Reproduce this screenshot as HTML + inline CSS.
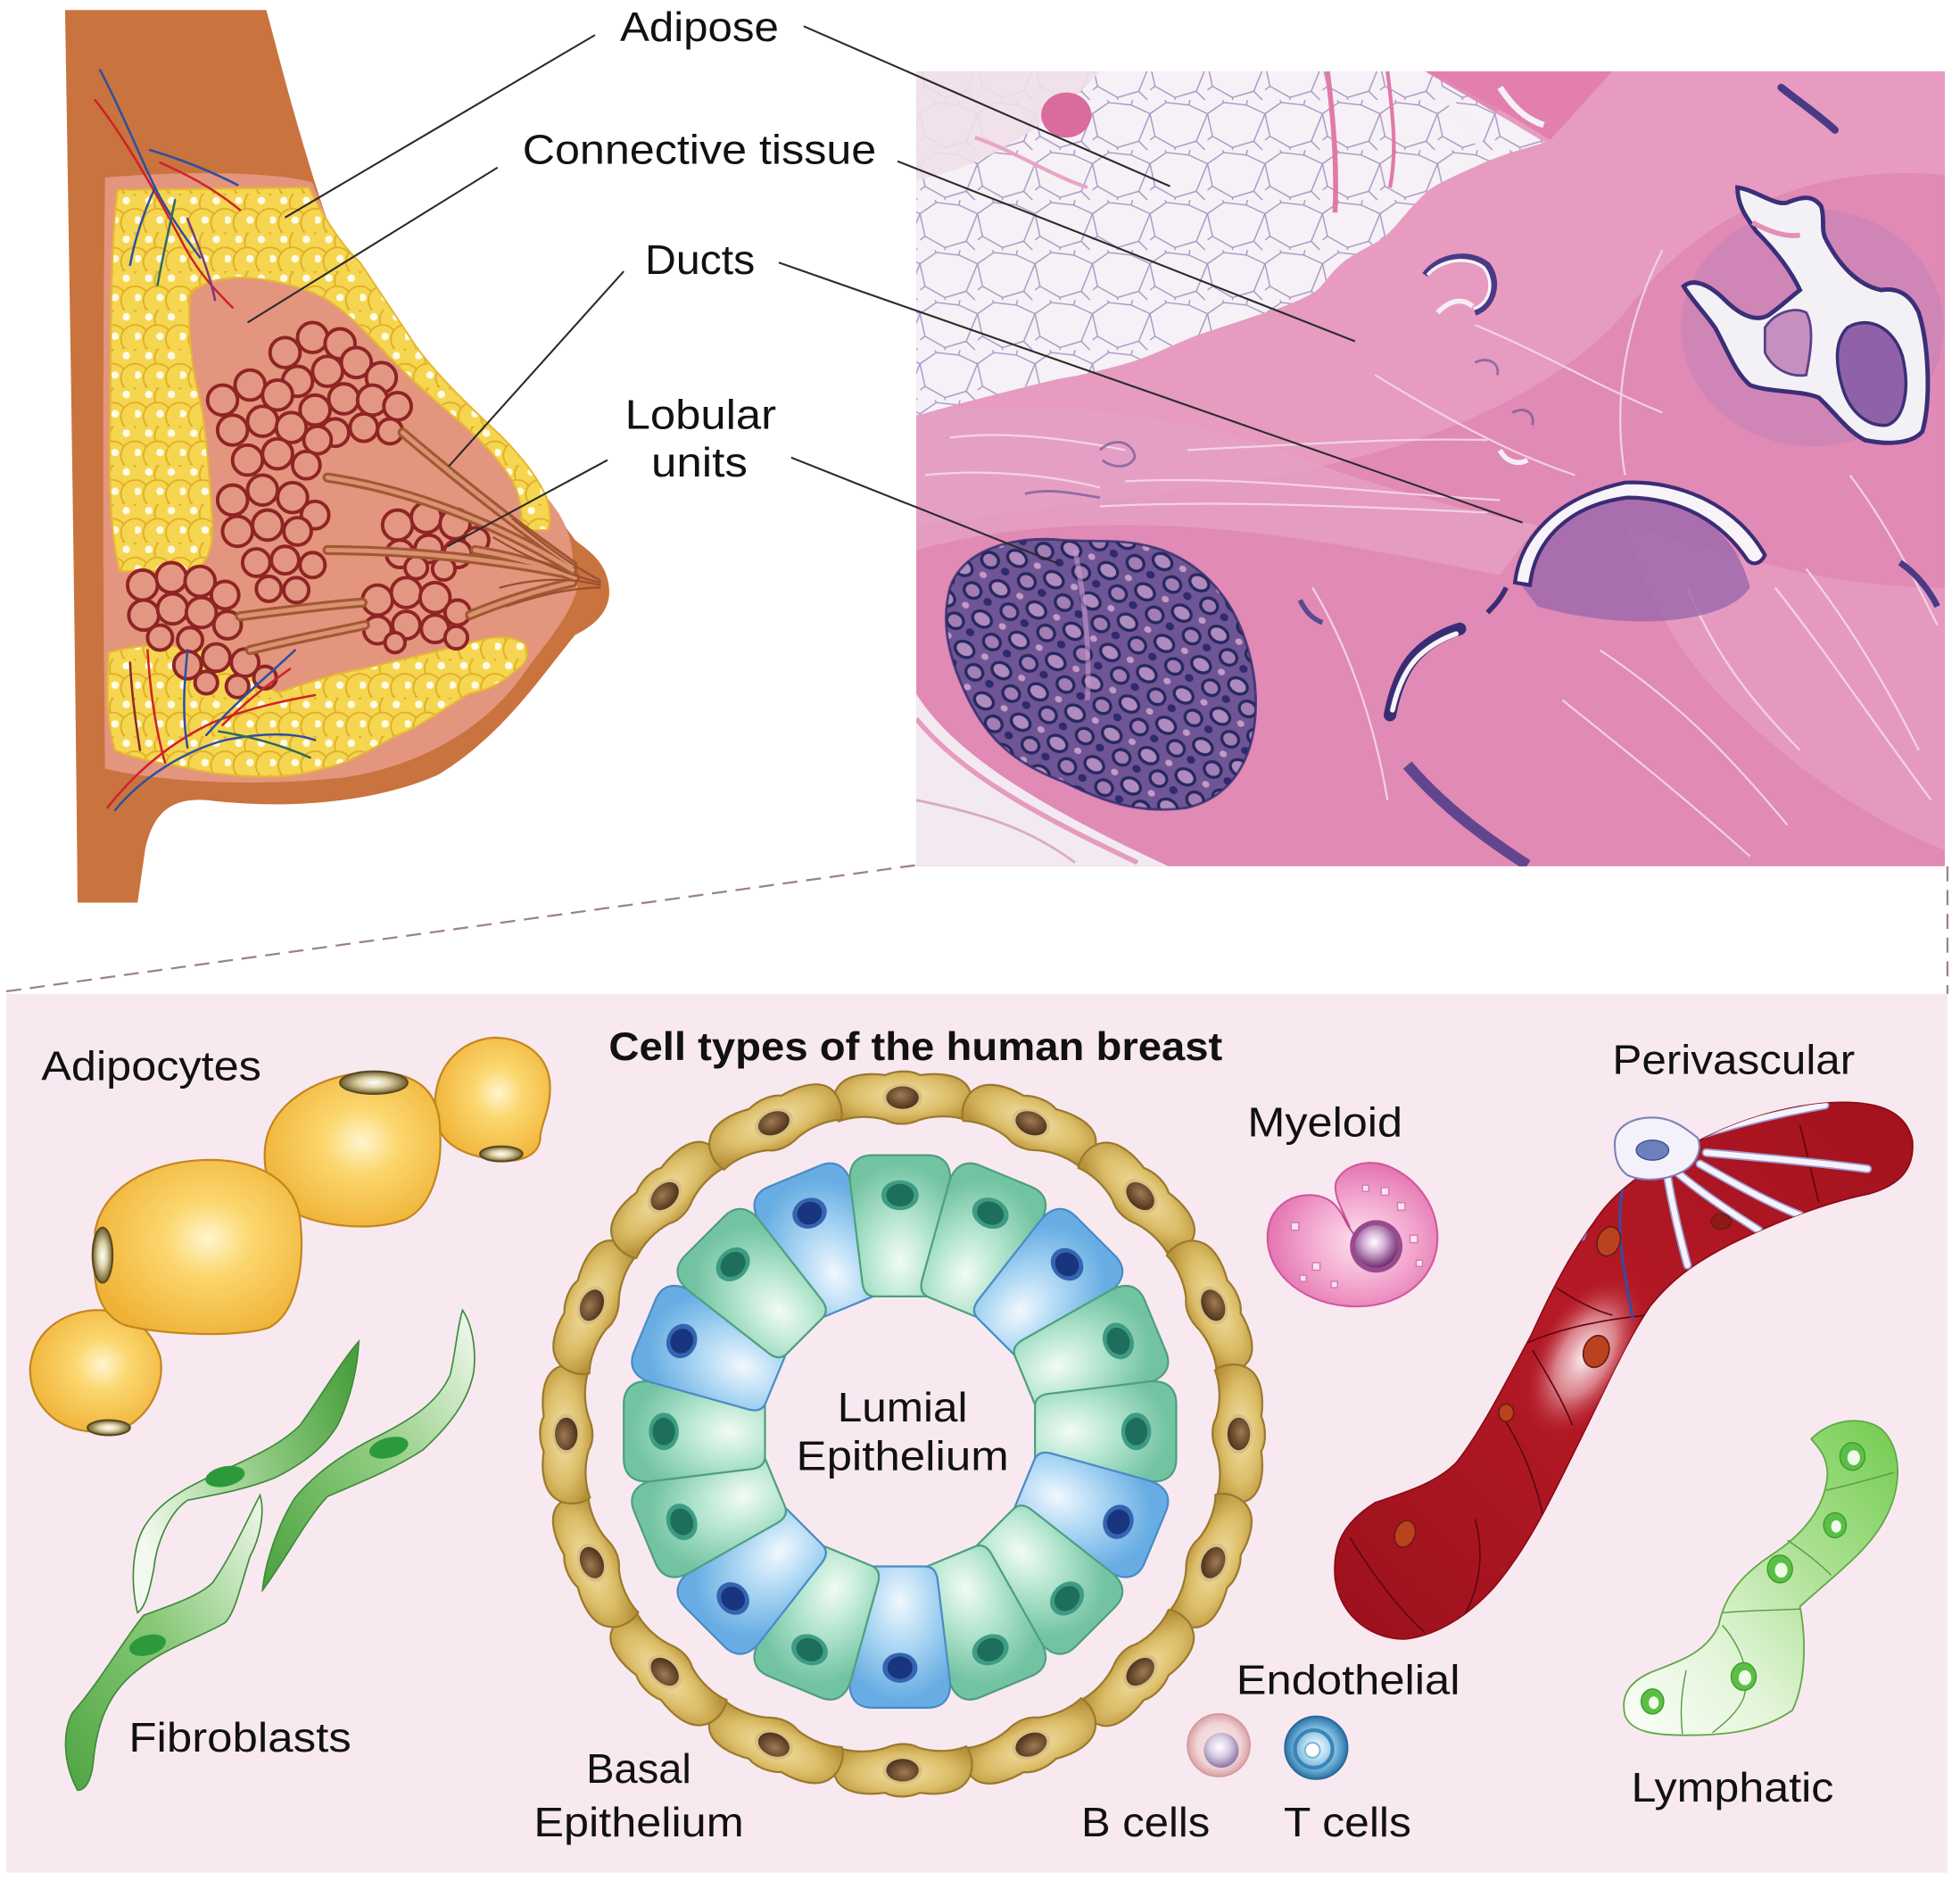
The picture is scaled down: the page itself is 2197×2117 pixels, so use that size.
<!DOCTYPE html>
<html><head><meta charset="utf-8"><style>
html,body{margin:0;padding:0;background:#fff;}
svg{display:block;}
text{font-family:"Liberation Sans",Arial,sans-serif;fill:#111;}
</style></head><body>
<svg width="2197" height="2117" viewBox="0 0 1568 1511" xmlns="http://www.w3.org/2000/svg">
<defs>
  <pattern id="fat" width="36" height="31" patternUnits="userSpaceOnUse">
    <rect width="36" height="31" fill="#ecc238"/>
    <g fill="#f6d650" stroke="#deae26" stroke-width="1.3">
      <circle cx="9" cy="7.75" r="11.3"/><circle cx="27" cy="7.75" r="11.3"/>
      <circle cx="0" cy="23.25" r="11.3"/><circle cx="18" cy="23.25" r="11.3"/><circle cx="36" cy="23.25" r="11.3"/>
    </g>
    <g fill="#fffbe6"><circle cx="11" cy="5.5" r="3"/><circle cx="29" cy="5.5" r="3"/><circle cx="20" cy="21" r="3"/><circle cx="2" cy="21" r="3"/></g>
  </pattern>
  <pattern id="adi" width="46" height="40" patternUnits="userSpaceOnUse">
    <rect width="46" height="40" fill="#f5f1f6"/>
    <path d="M0,11 L13,2 L31,4 L46,11 M13,2 L12,0 M31,4 L32,0 M0,11 L4,29 L20,38 L37,33 L46,11 M20,38 L20,40 M37,33 L44,40 M4,29 L0,32" stroke="#a894c4" stroke-width="1" fill="none"/>
  </pattern>
  <pattern id="lobp" width="34" height="28" patternUnits="userSpaceOnUse" patternTransform="rotate(30)">
    <rect width="34" height="28" fill="#6f5596"/>
    <ellipse cx="10" cy="8" rx="8" ry="6" fill="#b08bbd" stroke="#26285f" stroke-width="2.4"/>
    <ellipse cx="26" cy="20" rx="7" ry="6" fill="#a27eb4" stroke="#26285f" stroke-width="2.4"/>
    <ellipse cx="7" cy="22" rx="3.5" ry="3" fill="#2f2a6c"/>
    <ellipse cx="27" cy="5" rx="3" ry="2.5" fill="#c29bc7"/>
  </pattern>
  <clipPath id="hclip"><rect x="733" y="57" width="823" height="636"/></clipPath>

  <radialGradient id="gAdip" cx="55%" cy="45%" r="60%">
    <stop offset="0" stop-color="#fff5cf"/><stop offset=".35" stop-color="#fbd76f"/><stop offset="1" stop-color="#f0b236"/>
  </radialGradient>
  <radialGradient id="gNucA" cx="50%" cy="50%" r="50%">
    <stop offset="0" stop-color="#ffffff"/><stop offset=".45" stop-color="#ddd4a8"/><stop offset="1" stop-color="#6f5f32"/>
  </radialGradient>
  <linearGradient id="gFibA" x1="0" y1="1" x2="1" y2="0">
    <stop offset="0" stop-color="#4fa442"/><stop offset=".5" stop-color="#86c876"/><stop offset="1" stop-color="#f0f8ec"/>
  </linearGradient>
  <linearGradient id="gFibB" x1="0" y1="0.6" x2="1" y2="0.2">
    <stop offset="0" stop-color="#f2f9ef"/><stop offset=".45" stop-color="#9fd391"/><stop offset="1" stop-color="#4aa03e"/>
  </linearGradient>
  <linearGradient id="gFibC" x1="0" y1="1" x2="1" y2="0">
    <stop offset="0" stop-color="#48a03c"/><stop offset=".5" stop-color="#8ecb7e"/><stop offset="1" stop-color="#f4faf1"/>
  </linearGradient>
  <radialGradient id="gBasal" cx="50%" cy="45%" r="60%">
    <stop offset="0" stop-color="#f3e2a8"/><stop offset=".6" stop-color="#dcbd68"/><stop offset="1" stop-color="#b8923a"/>
  </radialGradient>
  <radialGradient id="gBN" cx="45%" cy="40%" r="60%">
    <stop offset="0" stop-color="#a07a52"/><stop offset="1" stop-color="#4e321c"/>
  </radialGradient>
  <radialGradient id="gGreen" cx="50%" cy="75%" r="70%">
    <stop offset="0" stop-color="#f2fbf6"/><stop offset=".45" stop-color="#b5e6cf"/><stop offset="1" stop-color="#72c3a2"/>
  </radialGradient>
  <radialGradient id="gBlue" cx="50%" cy="75%" r="70%">
    <stop offset="0" stop-color="#f1f8fe"/><stop offset=".45" stop-color="#aed8f4"/><stop offset="1" stop-color="#67ade3"/>
  </radialGradient>
  <radialGradient id="gMye" cx="55%" cy="55%" r="60%">
    <stop offset="0" stop-color="#fde3f0"/><stop offset=".5" stop-color="#f3a8cf"/><stop offset="1" stop-color="#e06aaa"/>
  </radialGradient>
  <radialGradient id="gMyeN" cx="45%" cy="40%" r="60%">
    <stop offset="0" stop-color="#ffffff"/><stop offset=".4" stop-color="#d7b2d8"/><stop offset="1" stop-color="#6f2f70"/>
  </radialGradient>
  <radialGradient id="gBc" cx="50%" cy="50%" r="50%">
    <stop offset="0" stop-color="#fbeef0"/><stop offset=".7" stop-color="#f2d3d6"/><stop offset="1" stop-color="#d9a3a8"/>
  </radialGradient>
  <radialGradient id="gBcN" cx="45%" cy="40%" r="60%">
    <stop offset="0" stop-color="#ffffff"/><stop offset=".5" stop-color="#d9cde4"/><stop offset="1" stop-color="#8c74a4"/>
  </radialGradient>
  <radialGradient id="gTc" cx="50%" cy="50%" r="50%">
    <stop offset="0" stop-color="#ffffff"/><stop offset=".35" stop-color="#b9ddf0"/><stop offset=".7" stop-color="#6fb1d8"/><stop offset="1" stop-color="#2d74a8"/>
  </radialGradient>
  <linearGradient id="gVes" x1="0" y1="1" x2="1" y2="0">
    <stop offset="0" stop-color="#9c111c"/><stop offset=".5" stop-color="#b51a26"/><stop offset="1" stop-color="#a3121e"/>
  </linearGradient>
  <radialGradient id="gVesHi" cx="50%" cy="50%" r="50%">
    <stop offset="0" stop-color="#ffffff" stop-opacity=".95"/><stop offset=".5" stop-color="#f3c6cc" stop-opacity=".6"/><stop offset="1" stop-color="#c0303c" stop-opacity="0"/>
  </radialGradient>
  <linearGradient id="gLym" x1="1" y1="0" x2="0" y2="1">
    <stop offset="0" stop-color="#72cc4e"/><stop offset=".35" stop-color="#a8df8e"/><stop offset=".7" stop-color="#e4f5da"/><stop offset="1" stop-color="#fbfef9"/>
  </linearGradient>
  <clipPath id="vclip"><path d="M1125,1311 C1100,1312 1072,1295 1068,1262 C1066,1235 1075,1218 1100,1202 C1130,1192 1150,1185 1165,1170 C1185,1145 1205,1105 1225,1068 C1240,1035 1255,1005 1275,978 C1290,955 1310,940 1345,920 C1380,900 1420,885 1465,882 C1505,880 1525,890 1530,912 C1532,935 1520,948 1495,955 C1460,962 1420,978 1385,995 C1360,1008 1340,1020 1320,1045 C1300,1075 1285,1110 1265,1150 C1245,1190 1225,1235 1195,1270 C1175,1292 1150,1308 1125,1311 Z"/></clipPath>

  <g id="bc">
    <path d="M-52,-9 C-45,-20 -27,-21 -14,-19 C-5,-23 7,-23 14,-19 C28,-21 45,-20 52,-10 C57,-2 56,9 51,17 C40,13 25,13 13,17 C4,21 -6,21 -13,17 C-26,13 -41,14 -51,18 C-57,10 -57,-2 -52,-9 Z" fill="url(#gBasal)" stroke="#9a7a2c" stroke-width="1.6"/>
    <ellipse cx="0" cy="-1" rx="16" ry="11" fill="#d8bf82"/>
    <ellipse cx="0" cy="-1" rx="13" ry="9" fill="url(#gBN)"/>
  </g>
  <g id="lg">
    <path d="M-20,-108 L20,-108 C26,-108 29,-112 30,-118 L40,-200 C41,-214 34,-221 22,-221 L-22,-221 C-34,-221 -41,-214 -40,-200 L-30,-118 C-29,-112 -26,-108 -20,-108 Z" fill="url(#gGreen)" stroke="#4f9f80" stroke-width="1.6"/>
    <ellipse cx="0" cy="-189" rx="15" ry="12" fill="#3f9c84"/>
    <ellipse cx="0" cy="-189" rx="11" ry="9" fill="#1d6f5c"/>
  </g>
  <g id="lb">
    <path d="M-20,-108 L20,-108 C26,-108 29,-112 30,-118 L40,-200 C41,-214 34,-221 22,-221 L-22,-221 C-34,-221 -41,-214 -40,-200 L-30,-118 C-29,-112 -26,-108 -20,-108 Z" fill="url(#gBlue)" stroke="#4a8bc6" stroke-width="1.6"/>
    <ellipse cx="0" cy="-189" rx="14" ry="12" fill="#3564b0"/>
    <ellipse cx="0" cy="-189" rx="10" ry="9" fill="#18357e"/>
  </g>
</defs>

<rect width="1568" height="1511" fill="#ffffff"/>

<!-- ================= BREAST ILLUSTRATION ================= -->
<path d="M52,8 L213,8 C222,40 235,95 258,165 C285,245 330,320 395,365 C425,390 445,410 460,432 C470,440 484,448 487,468 C490,488 476,500 460,508 C430,545 400,590 350,620 C300,642 230,648 165,640 C135,638 122,652 116,680 L110,722 L62,722 C60,500 56,250 52,8 Z" fill="#c9733f"/>
<path d="M84,142 C150,136 225,138 250,146 C268,195 295,245 335,295 C365,332 402,362 430,390 C448,408 457,425 458,445 L462,470 C455,495 438,512 418,540 C390,580 340,612 275,622 C200,630 130,625 84,615 C82,450 82,300 84,142 Z" fill="#e4957d"/>
<!-- fat regions -->
<g fill="url(#fat)" stroke="#e6b832" stroke-width="1.5">
  <path d="M94,152 L247,150 C258,172 272,195 288,210 C300,228 315,250 332,276 C348,298 368,318 400,348 C420,368 432,385 438,400 C441,412 440,420 438,424 L417,424 C418,410 416,396 410,385 C400,368 385,352 365,335 C345,318 325,300 308,282 C292,265 278,250 262,240 C245,230 215,222 190,222 C170,223 158,228 152,236 C150,260 152,290 160,320 C166,350 168,390 170,420 C170,445 162,457 148,457 L96,457 C88,430 87,380 88,340 C89,260 88,200 94,152 Z"/>
  <path d="M87,522 C110,515 135,515 160,520 C190,528 205,545 222,554 C250,545 270,538 290,535 C320,528 345,522 370,516 C390,510 405,506 420,515 C424,525 420,532 414,535 C400,548 390,552 375,555 C350,570 335,582 318,588 C295,600 280,610 262,614 C240,620 225,622 205,621 C180,620 165,618 149,614 C125,610 105,606 92,600 C86,580 85,560 87,522 Z"/>
</g>
<!-- vessels top -->
<g fill="none" stroke-width="1.8" stroke-linecap="round">
  <path d="M76,80 C100,110 128,160 148,198 C160,220 174,234 186,246" stroke="#d0222a"/>
  <path d="M80,56 C98,90 113,128 124,150 C134,170 148,190 160,206" stroke="#2f4fa0"/>
  <path d="M124,150 C115,170 108,190 104,212" stroke="#2f4fa0"/>
  <path d="M128,130 C150,140 170,150 192,168" stroke="#d0222a"/>
  <path d="M120,120 C140,126 165,135 190,148" stroke="#2f4fa0"/>
  <path d="M150,175 C160,200 168,220 172,240" stroke="#7a3a80"/>
  <path d="M140,160 C135,185 130,205 126,228" stroke="#2f6a60"/>
</g>
<!-- lobules -->
<g fill="#e39783" stroke="#8e2424" stroke-width="2.8">
  <circle cx="228" cy="282" r="12"/><circle cx="250" cy="270" r="12"/><circle cx="272" cy="275" r="12"/><circle cx="238" cy="305" r="12"/><circle cx="262" cy="297" r="12"/><circle cx="285" cy="290" r="12"/><circle cx="305" cy="302" r="12"/><circle cx="252" cy="328" r="12"/><circle cx="275" cy="319" r="12"/><circle cx="298" cy="320" r="12"/><circle cx="318" cy="325" r="11"/><circle cx="268" cy="346" r="11"/><circle cx="291" cy="342" r="11"/><circle cx="312" cy="345" r="10"/>
  <circle cx="178" cy="320" r="12"/><circle cx="200" cy="308" r="12"/><circle cx="222" cy="316" r="12"/><circle cx="186" cy="344" r="12"/><circle cx="210" cy="337" r="12"/><circle cx="233" cy="342" r="12"/><circle cx="254" cy="352" r="11"/><circle cx="198" cy="368" r="12"/><circle cx="222" cy="363" r="12"/><circle cx="245" cy="372" r="11"/>
  <circle cx="186" cy="400" r="12"/><circle cx="210" cy="392" r="12"/><circle cx="234" cy="398" r="12"/><circle cx="252" cy="412" r="11"/><circle cx="190" cy="425" r="12"/><circle cx="214" cy="420" r="12"/><circle cx="238" cy="425" r="11"/><circle cx="205" cy="450" r="11"/><circle cx="228" cy="448" r="11"/><circle cx="250" cy="452" r="10"/><circle cx="215" cy="471" r="10"/><circle cx="237" cy="472" r="10"/>
  <circle cx="318" cy="420" r="12"/><circle cx="341" cy="414" r="12"/><circle cx="364" cy="419" r="12"/><circle cx="381" cy="432" r="10"/><circle cx="320" cy="443" r="11"/><circle cx="343" cy="439" r="11"/><circle cx="366" cy="443" r="11"/><circle cx="333" cy="454" r="9"/><circle cx="355" cy="455" r="9"/>
  <circle cx="302" cy="480" r="12"/><circle cx="325" cy="474" r="12"/><circle cx="348" cy="478" r="12"/><circle cx="366" cy="490" r="10"/><circle cx="302" cy="504" r="11"/><circle cx="325" cy="500" r="11"/><circle cx="348" cy="503" r="11"/><circle cx="365" cy="510" r="9"/><circle cx="316" cy="514" r="8"/>
  <circle cx="114" cy="468" r="12"/><circle cx="137" cy="462" r="12"/><circle cx="160" cy="465" r="12"/><circle cx="180" cy="476" r="11"/><circle cx="115" cy="492" r="12"/><circle cx="138" cy="487" r="12"/><circle cx="161" cy="490" r="12"/><circle cx="182" cy="500" r="11"/><circle cx="128" cy="510" r="10"/><circle cx="152" cy="512" r="10"/>
  <circle cx="150" cy="532" r="11"/><circle cx="173" cy="526" r="11"/><circle cx="196" cy="530" r="11"/><circle cx="212" cy="542" r="9"/><circle cx="165" cy="546" r="9"/><circle cx="190" cy="549" r="9"/>
</g>
<!-- ducts -->
<g fill="none" stroke-linecap="round">
  <g stroke="#a35833" stroke-width="8">
    <path d="M322,346 C362,380 412,420 458,452"/>
    <path d="M262,382 C330,392 400,420 458,456"/>
    <path d="M262,440 C330,440 400,448 458,460"/>
    <path d="M380,440 C410,445 435,452 460,462"/>
    <path d="M376,492 C400,482 430,472 458,466"/>
    <path d="M192,493 C230,488 262,484 290,482"/>
    <path d="M200,520 C240,510 270,505 292,500"/>
  </g>
  <g stroke="#d99273" stroke-width="3.5">
    <path d="M322,346 C362,380 412,420 458,452"/>
    <path d="M262,382 C330,392 400,420 458,456"/>
    <path d="M262,440 C330,440 400,448 458,460"/>
    <path d="M380,440 C410,445 435,452 460,462"/>
    <path d="M376,492 C400,482 430,472 458,466"/>
    <path d="M192,493 C230,488 262,484 290,482"/>
    <path d="M200,520 C240,510 270,505 292,500"/>
  </g>
  <g stroke="#9a4f2d" stroke-width="1.6">
    <path d="M395,430 C425,448 455,460 480,466"/>
    <path d="M400,470 C430,462 455,462 480,468"/>
    <path d="M405,485 C435,475 460,470 480,470"/>
    <path d="M410,415 C440,440 462,455 480,464"/>
  </g>
</g>
<!-- vessels bottom -->
<g fill="none" stroke-width="1.8" stroke-linecap="round">
  <path d="M86,646 C110,615 140,592 170,578 C200,566 230,560 252,556" stroke="#d0222a"/>
  <path d="M92,648 C115,620 150,600 180,592 C210,586 235,586 252,592" stroke="#2f4fa0"/>
  <path d="M150,598 C145,570 148,540 150,520" stroke="#2f4fa0"/>
  <path d="M132,610 C124,582 120,552 118,520" stroke="#d0222a"/>
  <path d="M165,588 C190,560 215,540 236,520" stroke="#2f4fa0"/>
  <path d="M178,580 C200,558 218,545 232,535" stroke="#d0222a"/>
  <path d="M175,585 C205,590 230,598 248,606" stroke="#2f6a60"/>
  <path d="M112,600 C108,575 105,550 104,530" stroke="#8a2a2a"/>
</g>

<!-- ================= HISTOLOGY ================= -->
<g clip-path="url(#hclip)">
  <rect x="733" y="57" width="823" height="636" fill="#e08ab5"/>
  <path d="M733,300 C850,280 1000,230 1100,150 L1250,57 L1556,57 L1556,140 C1450,130 1360,170 1300,250 C1240,320 1120,370 960,390 L733,420 Z" fill="#e9a3c6" opacity=".7"/>
  <path d="M733,330 C850,320 950,330 1050,370 C1120,395 1180,410 1230,420 L1200,460 C1100,440 1000,420 900,420 C820,420 770,430 733,440 Z" fill="#e6a0c4" opacity=".8"/>
  <path d="M1300,420 C1380,440 1450,470 1556,470 L1556,680 C1480,650 1420,600 1380,560 C1340,520 1320,480 1300,420 Z" fill="#e9a4c7" opacity=".6"/>
  <path d="M1140,57 C1170,70 1205,90 1240,112 L1290,57 Z" fill="#e27fae"/>
  <path d="M733,57 L1140,57 C1165,72 1200,92 1236,114 C1215,120 1195,126 1181,133 C1165,140 1152,146 1143,152 C1132,162 1124,172 1117,180 C1110,188 1106,191 1101,194 C1090,200 1080,205 1073,211 C1065,218 1060,226 1054,232 C1045,238 1033,243 1022,247 C1000,254 980,261 958,268 C940,275 925,283 907,289 C887,295 867,300 847,303 C810,312 770,322 735,332 L733,332 Z" fill="url(#adi)"/>
  <path d="M733,57 L880,57 C860,80 830,105 790,125 C770,135 750,140 733,145 Z" fill="#efdfe9" opacity=".9"/>
  <ellipse cx="853" cy="92" rx="20" ry="18" fill="#d96c9c"/>
  <path d="M1062,57 C1066,90 1070,130 1068,170" stroke="#e07aa8" stroke-width="4" fill="none"/>
  <path d="M1110,57 C1114,90 1118,120 1112,150" stroke="#e07aa8" stroke-width="3" fill="none"/>
  <path d="M780,110 C810,120 840,140 870,150" stroke="#e8a5c6" stroke-width="3" fill="none"/>
  <path d="M1150,70 C1170,90 1180,110 1190,125" stroke="#f5f0f6" stroke-width="6" fill="none"/>
  <path d="M1200,70 C1210,85 1220,95 1235,100" stroke="#f5f0f6" stroke-width="5" fill="none"/>
  <path d="M733,555 C760,598 820,640 935,693 L733,693 Z" fill="#f3eaf1"/>
  <path d="M733,575 C770,620 830,652 910,690" stroke="#e59bbf" stroke-width="4" fill="none"/>
  <path d="M733,640 C780,650 820,660 860,690" stroke="#dda9c6" stroke-width="2" fill="none"/>
  <g fill="none" stroke="#f6dcea" stroke-width="1.6" opacity=".85">
    <path d="M900,385 C1000,380 1100,395 1200,400"/>
    <path d="M880,405 C980,400 1080,405 1190,410"/>
    <path d="M950,360 C1050,355 1120,350 1190,352"/>
    <path d="M1420,470 C1460,520 1500,580 1545,640"/>
    <path d="M1445,455 C1480,500 1510,550 1535,600"/>
    <path d="M1250,560 C1300,600 1350,640 1400,685"/>
    <path d="M1280,520 C1340,560 1380,600 1430,660"/>
    <path d="M1350,470 C1370,520 1400,560 1440,600"/>
    <path d="M1100,300 C1150,330 1200,360 1260,380"/>
    <path d="M1180,260 C1230,280 1280,310 1330,330"/>
    <path d="M1330,200 C1300,260 1290,320 1300,380"/>
    <path d="M1480,380 C1510,420 1530,460 1550,500"/>
    <path d="M1050,470 C1080,520 1100,580 1110,640"/>
    <path d="M760,350 C800,345 850,350 900,360"/>
    <path d="M740,380 C790,375 840,380 880,390"/>
  </g>
  <g fill="none" stroke="#5a4a90" stroke-width="2" opacity=".6">
    <path d="M880,360 C890,350 905,352 908,365 C905,375 890,375 882,368"/>
    <path d="M820,395 C840,390 860,395 880,398"/>
    <path d="M1210,330 C1220,325 1228,330 1226,340"/>
    <path d="M1180,290 C1190,285 1200,290 1198,300"/>
  </g>
  <path d="M760,470 C770,440 810,428 850,432 C880,434 900,430 930,440 C970,455 995,490 1003,540 C1010,590 995,635 950,646 C910,652 880,640 850,625 C810,610 790,590 775,560 C760,530 752,500 760,470 Z" fill="url(#lobp)"/>
  <path d="M760,470 C770,440 810,428 850,432 C880,434 900,430 930,440 C970,455 995,490 1003,540 C1010,590 995,635 950,646 C910,652 880,640 850,625 C810,610 790,590 775,560 C760,530 752,500 760,470 Z" fill="none" stroke="#2e2a6c" stroke-width="2" opacity=".8"/>
  <path d="M860,440 C868,480 872,520 870,560" stroke="#c89acb" stroke-width="4" fill="none" opacity=".6"/>
  <ellipse cx="1450" cy="262" rx="105" ry="95" fill="#b37ab9" opacity=".35"/>
  <path d="M1390,150 C1405,152 1420,165 1430,162 C1440,158 1450,155 1457,165 C1460,175 1457,182 1460,190 C1470,210 1485,228 1505,232 C1518,230 1528,235 1535,250 C1543,275 1545,320 1538,345 C1530,355 1510,356 1492,352 C1478,345 1468,330 1455,318 C1440,312 1415,314 1400,308 C1388,298 1382,280 1372,262 C1362,248 1352,238 1347,229 C1355,222 1368,228 1380,240 C1392,252 1405,258 1415,252 C1425,245 1432,238 1440,232 C1432,215 1420,200 1405,185 C1398,175 1390,165 1390,150 Z" fill="#f4f1f6" stroke="#3b2f78" stroke-width="3.5"/>
  <path d="M1478,262 C1495,252 1515,262 1522,285 C1528,310 1524,335 1510,340 C1495,342 1480,330 1474,310 C1468,290 1468,272 1478,262 Z" fill="#8f62a8" stroke="#3b2f78" stroke-width="2.5"/>
  <path d="M1412,262 C1420,250 1435,245 1445,250 C1452,262 1448,285 1445,300 C1432,302 1418,295 1412,282 Z" fill="#c58fbf" stroke="#5a4288" stroke-width="2"/>
  <path d="M1402,178 C1415,185 1428,190 1440,188" stroke="#e48fb8" stroke-width="4" fill="none"/>
  <path d="M1425,70 C1440,82 1455,92 1468,104" stroke="#4a3a86" stroke-width="6" fill="none" stroke-linecap="round"/>
  <path d="M1215,465 C1230,420 1270,395 1310,398 C1360,402 1390,430 1400,470 C1380,500 1300,505 1230,485 Z" fill="#9a67ad" opacity=".8"/>
  <path d="M1212,466 C1216,430 1245,398 1300,386 C1345,384 1390,405 1412,444 C1408,452 1402,452 1398,448 C1378,418 1345,398 1302,398 C1255,404 1228,432 1224,468 Z" fill="#f7f3f8" stroke="#3a2c74" stroke-width="3"/>
  <path d="M1205,470 C1200,480 1195,485 1190,490" stroke="#3a2c74" stroke-width="4" fill="none"/>
  <path d="M1112,572 C1116,550 1124,532 1135,522 C1145,512 1158,506 1168,503" stroke="#3a2c74" stroke-width="10" fill="none" stroke-linecap="round"/>
  <path d="M1114,568 C1118,550 1125,534 1136,524 C1146,515 1156,510 1165,507" stroke="#f7f3f8" stroke-width="4" fill="none" stroke-linecap="round"/>
  <path d="M1126,612 C1150,640 1180,665 1222,692" stroke="#4a3a86" stroke-width="9" fill="none" opacity=".85"/>
  <path d="M1140,220 C1150,205 1175,200 1190,212 C1200,225 1195,245 1180,250" stroke="#4a3a86" stroke-width="5" fill="none"/>
  <path d="M1142,220 C1152,208 1174,204 1187,214 C1196,226 1192,243 1179,247" stroke="#f7f3f8" stroke-width="2.5" fill="none"/>
  <path d="M1150,250 C1160,240 1170,238 1178,245" stroke="#f5eef5" stroke-width="4" fill="none"/>
  <path d="M1200,360 C1205,370 1215,372 1222,368" stroke="#f5eef5" stroke-width="4" fill="none"/>
  <path d="M1520,450 C1535,460 1545,475 1550,485" stroke="#4a3a86" stroke-width="5" fill="none"/>
  <path d="M1040,480 C1045,490 1050,495 1058,498" stroke="#5a4a90" stroke-width="4" fill="none"/>
</g>

<!-- leader lines -->
<g stroke="#2b2b2b" stroke-width="1.5" fill="none">
  <path d="M476,28 L228,174"/>
  <path d="M643,21 L936,149"/>
  <path d="M398,134 L198,258"/>
  <path d="M718,129 L1084,273"/>
  <path d="M499,217 L359,373"/>
  <path d="M623,210 L1218,418"/>
  <path d="M486,368 L358,437"/>
  <path d="M633,366 L847,451"/>
</g>
<text x="496" y="33" font-size="33" textLength="127" lengthAdjust="spacingAndGlyphs">Adipose</text>
<text x="418" y="131" font-size="33" textLength="283" lengthAdjust="spacingAndGlyphs">Connective tissue</text>
<text x="516" y="219" font-size="33" textLength="88" lengthAdjust="spacingAndGlyphs">Ducts</text>
<text x="500" y="343" font-size="33" textLength="121" lengthAdjust="spacingAndGlyphs">Lobular</text>
<text x="521" y="381" font-size="33" textLength="77" lengthAdjust="spacingAndGlyphs">units</text>

<g stroke="#9c808e" stroke-width="1.6" stroke-dasharray="12 7" fill="none">
  <path d="M5,793 L733,692"/>
  <path d="M1558,693 L1558,795"/>
</g>

<!-- ================= CELL PANEL ================= -->
<rect x="5" y="795" width="1553" height="703" fill="#f8e9f1"/>

<text x="487" y="848" font-size="32" font-weight="bold" textLength="491" lengthAdjust="spacingAndGlyphs">Cell types of the human breast</text>
<text x="33" y="864" font-size="33" textLength="176" lengthAdjust="spacingAndGlyphs">Adipocytes</text>
<text x="998" y="909" font-size="33" textLength="124" lengthAdjust="spacingAndGlyphs">Myeloid</text>
<text x="1290" y="859" font-size="33" textLength="194" lengthAdjust="spacingAndGlyphs">Perivascular</text>
<text x="670" y="1137" font-size="33" textLength="104" lengthAdjust="spacingAndGlyphs">Lumial</text>
<text x="637" y="1176" font-size="33" textLength="170" lengthAdjust="spacingAndGlyphs">Epithelium</text>
<text x="469" y="1426" font-size="33" textLength="84" lengthAdjust="spacingAndGlyphs">Basal</text>
<text x="427" y="1469" font-size="33" textLength="168" lengthAdjust="spacingAndGlyphs">Epithelium</text>
<text x="989" y="1355" font-size="33" textLength="179" lengthAdjust="spacingAndGlyphs">Endothelial</text>
<text x="865" y="1469" font-size="33" textLength="103" lengthAdjust="spacingAndGlyphs">B cells</text>
<text x="1027" y="1469" font-size="33" textLength="102" lengthAdjust="spacingAndGlyphs">T cells</text>
<text x="103" y="1401" font-size="33" textLength="178" lengthAdjust="spacingAndGlyphs">Fibroblasts</text>
<text x="1305" y="1441" font-size="33" textLength="162" lengthAdjust="spacingAndGlyphs">Lymphatic</text>

<g stroke="#c2871f" stroke-width="1.6" fill="url(#gAdip)">
  <path d="M24,1095 C26,1065 50,1050 75,1048 C100,1047 120,1060 128,1085 C132,1105 122,1125 110,1135 C100,1145 80,1148 60,1143 C40,1137 24,1120 24,1095 Z"/>
  <path d="M348,880 C350,850 370,832 395,830 C420,830 440,845 440,870 C440,890 432,900 432,912 C430,925 415,930 400,928 C380,926 360,920 352,905 Z"/>
  <path d="M212,918 C215,885 250,862 290,858 C330,855 352,870 352,905 C354,935 345,965 325,975 C300,985 260,982 235,970 C218,960 210,940 212,918 Z"/>
  <path d="M76,985 C82,950 120,930 160,928 C200,926 235,940 240,975 C244,1010 238,1050 215,1062 C190,1070 130,1068 100,1060 C80,1052 74,1030 76,1005 Z"/>
</g>
<g fill="url(#gNucA)" stroke="#5a4a1e" stroke-width="1.5">
  <ellipse cx="82" cy="1004" rx="8" ry="22"/>
  <ellipse cx="299" cy="866" rx="27" ry="9"/>
  <ellipse cx="401" cy="923" rx="17" ry="6"/>
  <ellipse cx="87" cy="1142" rx="17" ry="6"/>
</g>

<g stroke="#3f8a3a" stroke-width="1.2">
  <path d="M110,1290 C104,1265 106,1238 115,1222 C125,1205 140,1195 160,1185 C190,1170 220,1160 240,1140 C255,1120 272,1090 287,1073 C286,1095 280,1120 270,1140 C258,1160 240,1172 220,1182 C195,1192 170,1196 150,1200 C135,1210 125,1235 123,1255 C120,1270 117,1285 110,1290 Z" fill="url(#gFibB)"/>
  <path d="M62,1432 C50,1410 50,1385 58,1370 C80,1345 100,1310 115,1292 C140,1283 160,1276 170,1266 C185,1245 198,1215 208,1196 C212,1210 208,1230 200,1245 C192,1270 188,1290 180,1298 C160,1310 130,1318 105,1340 C85,1358 78,1380 75,1405 C74,1420 70,1432 62,1432 Z" fill="url(#gFibA)"/>
  <path d="M210,1272 C212,1250 222,1220 236,1198 C255,1175 280,1160 300,1150 C330,1135 350,1122 360,1100 C364,1085 366,1060 370,1048 C378,1060 381,1080 379,1097 C375,1120 360,1140 338,1160 C315,1175 290,1185 262,1197 C245,1215 230,1245 210,1272 Z" fill="url(#gFibC)"/>
</g>
<g fill="#2c9a3c">
  <ellipse cx="180" cy="1181" rx="16" ry="8" transform="rotate(-12 180 1181)"/>
  <ellipse cx="311" cy="1158" rx="16" ry="8" transform="rotate(-15 311 1158)"/>
  <ellipse cx="118" cy="1316" rx="15" ry="8" transform="rotate(-15 118 1316)"/>
</g>

<g>
  <use href="#bc" transform="translate(722,1147) rotate(0) translate(0,-268)"/>
  <use href="#bc" transform="translate(722,1147) rotate(22.5) translate(0,-268)"/>
  <use href="#bc" transform="translate(722,1147) rotate(45) translate(0,-268)"/>
  <use href="#bc" transform="translate(722,1147) rotate(67.5) translate(0,-268)"/>
  <use href="#bc" transform="translate(722,1147) rotate(90) translate(0,-268)"/>
  <use href="#bc" transform="translate(722,1147) rotate(112.5) translate(0,-268)"/>
  <use href="#bc" transform="translate(722,1147) rotate(135) translate(0,-268)"/>
  <use href="#bc" transform="translate(722,1147) rotate(157.5) translate(0,-268)"/>
  <use href="#bc" transform="translate(722,1147) rotate(180) translate(0,-268)"/>
  <use href="#bc" transform="translate(722,1147) rotate(202.5) translate(0,-268)"/>
  <use href="#bc" transform="translate(722,1147) rotate(225) translate(0,-268)"/>
  <use href="#bc" transform="translate(722,1147) rotate(247.5) translate(0,-268)"/>
  <use href="#bc" transform="translate(722,1147) rotate(270) translate(0,-268)"/>
  <use href="#bc" transform="translate(722,1147) rotate(292.5) translate(0,-268)"/>
  <use href="#bc" transform="translate(722,1147) rotate(315) translate(0,-268)"/>
  <use href="#bc" transform="translate(722,1147) rotate(337.5) translate(0,-268)"/>
</g>
<g>
  <use href="#lb" transform="translate(720,1145) rotate(-22.5)"/>
  <use href="#lg" transform="translate(720,1145) rotate(0)"/>
  <use href="#lg" transform="translate(720,1145) rotate(22.5)"/>
  <use href="#lb" transform="translate(720,1145) rotate(45)"/>
  <use href="#lg" transform="translate(720,1145) rotate(67.5)"/>
  <use href="#lg" transform="translate(720,1145) rotate(90)"/>
  <use href="#lb" transform="translate(720,1145) rotate(112.5)"/>
  <use href="#lg" transform="translate(720,1145) rotate(135)"/>
  <use href="#lg" transform="translate(720,1145) rotate(157.5)"/>
  <use href="#lb" transform="translate(720,1145) rotate(180)"/>
  <use href="#lg" transform="translate(720,1145) rotate(202.5)"/>
  <use href="#lb" transform="translate(720,1145) rotate(225)"/>
  <use href="#lg" transform="translate(720,1145) rotate(247.5)"/>
  <use href="#lg" transform="translate(720,1145) rotate(270)"/>
  <use href="#lb" transform="translate(720,1145) rotate(292.5)"/>
  <use href="#lg" transform="translate(720,1145) rotate(315)"/>
</g>

<path d="M1014,990 C1014,968 1030,955 1050,956 C1062,957 1068,962 1074,972 L1080,982 C1074,968 1066,955 1069,945 C1075,933 1090,928 1105,931 C1130,938 1150,962 1150,990 C1150,1020 1125,1045 1085,1045 C1045,1045 1014,1020 1014,990 Z" fill="url(#gMye)" stroke="#d2579c" stroke-width="1.5"/>
<path d="M1074,972 C1080,985 1085,990 1090,992" stroke="#b04488" stroke-width="1.2" fill="none"/>
<circle cx="1101" cy="997" r="21" fill="#9a4a8c"/>
<circle cx="1101" cy="997" r="17" fill="url(#gMyeN)"/>
<g fill="#fbe4f0" stroke="#d47aae" stroke-width="1">
  <rect x="1033" y="978" width="6" height="6"/><rect x="1050" y="1010" width="6" height="6"/>
  <rect x="1065" y="1025" width="5" height="5"/><rect x="1128" y="988" width="6" height="6"/>
  <rect x="1133" y="1008" width="5" height="5"/><rect x="1105" y="950" width="6" height="6"/>
  <rect x="1118" y="962" width="6" height="6"/><rect x="1040" y="1020" width="5" height="5"/>
  <rect x="1090" y="948" width="5" height="5"/>
</g>

<circle cx="975" cy="1396" r="25" fill="url(#gBc)" stroke="#d4999e" stroke-width="1.2"/>
<circle cx="977" cy="1400" r="14" fill="url(#gBcN)"/>
<circle cx="1053" cy="1398" r="25" fill="url(#gTc)" stroke="#2a6a9c" stroke-width="1.5"/>
<circle cx="1051" cy="1399" r="15" fill="none" stroke="#3a85b8" stroke-width="3"/>
<circle cx="1050" cy="1400" r="6" fill="#ffffff" stroke="#7ab6da" stroke-width="1.5"/>

<path d="M1125,1311 C1100,1312 1072,1295 1068,1262 C1066,1235 1075,1218 1100,1202 C1130,1192 1150,1185 1165,1170 C1185,1145 1205,1105 1225,1068 C1240,1035 1255,1005 1275,978 C1290,955 1310,940 1345,920 C1380,900 1420,885 1465,882 C1505,880 1525,890 1530,912 C1532,935 1520,948 1495,955 C1460,962 1420,978 1385,995 C1360,1008 1340,1020 1320,1045 C1300,1075 1285,1110 1265,1150 C1245,1190 1225,1235 1195,1270 C1175,1292 1150,1308 1125,1311 Z" fill="url(#gVes)" stroke="#8a0c16" stroke-width="1.2"/>
<g clip-path="url(#vclip)">
  <ellipse cx="1268" cy="1085" rx="38" ry="70" transform="rotate(30 1268 1085)" fill="url(#gVesHi)"/>
  <g stroke="#5e0810" stroke-width="1.2" fill="none">
    <path d="M1222,1074 C1250,1062 1285,1055 1318,1052"/>
    <path d="M1226,1080 C1238,1100 1250,1120 1258,1140"/>
    <path d="M1200,1130 C1220,1160 1230,1190 1235,1215"/>
    <path d="M1245,1030 C1260,1040 1275,1048 1290,1052"/>
    <path d="M1180,1215 C1190,1250 1180,1285 1162,1305"/>
    <path d="M1080,1230 C1100,1262 1120,1288 1140,1306"/>
    <path d="M1440,900 C1445,920 1450,940 1455,962"/>
  </g>
  <g fill="none" stroke-linecap="round">
    <g stroke="#9a9ad0" stroke-width="7">
      <path d="M1350,911 C1390,898 1425,890 1460,884"/>
      <path d="M1365,922 C1410,926 1455,930 1494,935"/>
      <path d="M1360,931 C1390,948 1415,962 1440,972"/>
      <path d="M1342,938 C1362,955 1385,970 1407,984"/>
      <path d="M1334,941 C1338,965 1344,990 1350,1012"/>
    </g>
    <g stroke="#f6f3fb" stroke-width="4.5">
      <path d="M1350,911 C1390,898 1425,890 1460,884"/>
      <path d="M1365,922 C1410,926 1455,930 1494,935"/>
      <path d="M1360,931 C1390,948 1415,962 1440,972"/>
      <path d="M1342,938 C1362,955 1385,970 1407,984"/>
      <path d="M1334,941 C1338,965 1344,990 1350,1012"/>
    </g>
    <path d="M1298,950 C1292,985 1300,1020 1306,1054" stroke="#3a4ba0" stroke-width="2.2"/>
    <path d="M1285,948 C1276,962 1270,975 1266,990" stroke="#7a7ac0" stroke-width="5"/>
  </g>
</g>
<g fill="#b8431e" stroke="#6e1a10" stroke-width="1.2">
  <ellipse cx="1277" cy="1081" rx="10" ry="13" transform="rotate(20 1277 1081)"/>
  <ellipse cx="1205" cy="1130" rx="6" ry="7"/>
  <ellipse cx="1124" cy="1227" rx="8" ry="11" transform="rotate(20 1124 1227)"/>
  <ellipse cx="1287" cy="993" rx="9" ry="12" transform="rotate(20 1287 993)"/>
  <ellipse cx="1377" cy="977" rx="8" ry="6" fill="#8e1a18"/>
</g>
<path d="M1292,918 C1290,902 1305,893 1325,894 C1340,895 1350,904 1358,910 C1362,918 1358,930 1348,936 C1335,944 1315,946 1302,940 C1294,934 1292,926 1292,918 Z" fill="#f4f1fb" stroke="#7f7fba" stroke-width="1.5"/>
<ellipse cx="1322" cy="920" rx="13" ry="8" fill="#6b80bd" stroke="#3e4f8e" stroke-width="1"/>

<path d="M1449,1151 C1465,1135 1490,1132 1505,1143 C1522,1158 1522,1190 1508,1215 C1495,1240 1470,1258 1440,1285 C1445,1310 1445,1345 1434,1368 C1410,1385 1380,1388 1349,1388 C1325,1388 1305,1386 1300,1372 C1296,1355 1305,1345 1320,1338 C1345,1328 1365,1322 1375,1300 C1380,1275 1395,1258 1420,1242 C1445,1225 1460,1205 1462,1180 C1462,1165 1455,1158 1449,1151 Z" fill="url(#gLym)" stroke="#63a847" stroke-width="1.3"/>
<g stroke="#5a9a44" stroke-width="1" fill="none">
  <path d="M1461,1192 C1480,1188 1500,1182 1515,1178"/>
  <path d="M1430,1232 C1442,1240 1455,1250 1465,1260"/>
  <path d="M1378,1290 C1400,1288 1420,1288 1440,1287"/>
  <path d="M1378,1300 C1395,1320 1400,1340 1395,1358 C1390,1370 1380,1378 1370,1386"/>
  <path d="M1349,1336 C1345,1355 1344,1370 1346,1387"/>
</g>
<g fill="#5cbf45" stroke="#3f9a30" stroke-width="1">
  <ellipse cx="1482" cy="1165" rx="10" ry="11"/><ellipse cx="1468" cy="1220" rx="9" ry="10"/>
  <ellipse cx="1424" cy="1255" rx="10" ry="11"/><ellipse cx="1395" cy="1341" rx="10" ry="11"/>
  <ellipse cx="1322" cy="1361" rx="9" ry="10"/>
</g>
<g fill="#eefbe8">
  <ellipse cx="1483" cy="1166" rx="5" ry="6"/><ellipse cx="1469" cy="1221" rx="4" ry="5"/>
  <ellipse cx="1425" cy="1256" rx="5" ry="6"/><ellipse cx="1396" cy="1342" rx="5" ry="6"/>
  <ellipse cx="1323" cy="1362" rx="4" ry="5"/>
</g>
</svg>
</body></html>
